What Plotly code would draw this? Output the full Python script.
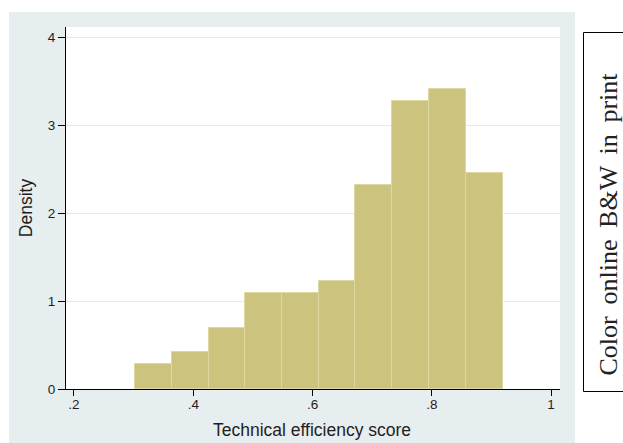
import plotly.graph_objects as go

# Histogram data (density)
bin_edges = [0.302, 0.364, 0.426, 0.487, 0.549, 0.611, 0.672, 0.734, 0.796, 0.857, 0.919]
densities = [0.28, 0.417, 0.69, 1.09, 1.09, 1.227, 2.318, 3.27, 3.405, 2.45]

x_tick_vals = [0.2, 0.4, 0.6, 0.8, 1.0]
x_tick_text = [".2", ".4", ".6", ".8", "1"]
y_tick_vals = [0, 1, 2, 3, 4]
y_tick_text = ["0", "1", "2", "3", "4"]

x_title = "Technical efficiency score"
y_title = "Density"
side_note = " \u2009".join(["Color", "online", "B&W", "in", "print"])

centers = [(a + b) / 2 for a, b in zip(bin_edges[:-1], bin_edges[1:])]
widths = [b - a for a, b in zip(bin_edges[:-1], bin_edges[1:])]

W, H = 623, 443
L, R, T, B = 66, 623 - 560, 27, 443 - 389

PANEL = "#e7eef0"
BAR = "#ccc47e"
BAR_LINE = "#ddd7a0"
GRID = "#e2ebee"
TXT = "#1e1e1e"

fig = go.Figure()
fig.add_trace(go.Bar(
    x=centers, y=densities, width=widths,
    marker=dict(color=BAR, line=dict(color=BAR_LINE, width=1)),
    hoverinfo="x+y", showlegend=False,
))

pw = W - L - R
ph = H - T - B


def px_x(p):
    """window pixel x -> paper coordinate"""
    return (p - L) / pw


def px_y(p):
    """window pixel y -> paper coordinate"""
    return (H - B - p) / ph


shapes = [
    # white strips around the grey panel
    dict(type="rect", xref="paper", yref="paper", x0=px_x(-20), x1=px_x(9), y0=px_y(H + 40), y1=px_y(-20),
         fillcolor="white", line=dict(width=0), layer="above"),
    dict(type="rect", xref="paper", yref="paper", x0=px_x(-20), x1=px_x(W + 40), y0=px_y(12), y1=px_y(-20),
         fillcolor="white", line=dict(width=0), layer="above"),
    dict(type="rect", xref="paper", yref="paper", x0=px_x(575), x1=px_x(W + 40), y0=px_y(H + 40), y1=px_y(-20),
         fillcolor="white", line=dict(width=0), layer="above"),
    # side box
    dict(type="rect", xref="paper", yref="paper", x0=px_x(583.5), x1=px_x(640), y0=px_y(391.5), y1=px_y(32.5),
         fillcolor="rgba(0,0,0,0)", line=dict(color="black", width=1), layer="above"),
]

fig.update_layout(
    width=W, height=H,
    margin=dict(l=L, r=R, t=T, b=B, pad=0),
    paper_bgcolor=PANEL,
    plot_bgcolor="white",
    bargap=0,
    font=dict(family="Liberation Sans, Arial, sans-serif", color=TXT),
    shapes=shapes,
    xaxis=dict(
        range=[0.1866, 1.015], tickvals=x_tick_vals, ticktext=x_tick_text,
        showgrid=False, zeroline=False,
        showline=True, linecolor="black", linewidth=1.3,
        ticks="outside", ticklen=6, tickwidth=1.2, tickcolor="black",
        ticklabelstandoff=-3,
        tickfont=dict(size=13.5, color=TXT),
    ),
    yaxis=dict(
        range=[0, 4.114], tickvals=y_tick_vals, ticktext=y_tick_text,
        showgrid=True, gridcolor=GRID, gridwidth=1, zeroline=False,
        showline=True, linecolor="black", linewidth=1.3,
        ticks="outside", ticklen=7, tickwidth=1.2, tickcolor="black",
        tickfont=dict(size=13.5, color=TXT),
        title=dict(text=y_title, font=dict(size=17.5, color=TXT), standoff=10),
    ),
    annotations=[
        dict(text=x_title, xref="paper", yref="paper", x=px_x(311.5), y=px_y(430),
             xanchor="center", yanchor="middle", showarrow=False,
             font=dict(size=17.5, color=TXT)),
        dict(text=side_note, xref="paper", yref="paper", x=px_x(607.5), y=px_y(224),
             xanchor="center", yanchor="middle", textangle=-90, showarrow=False,
             font=dict(family="Liberation Serif, Times New Roman, serif", size=26, color="#222222")),
    ],
)

fig.write_html(
    "out.html",
    config={"displayModeBar": False},
    post_script="document.body.style.margin='0';document.body.style.overflow='hidden';",
)
